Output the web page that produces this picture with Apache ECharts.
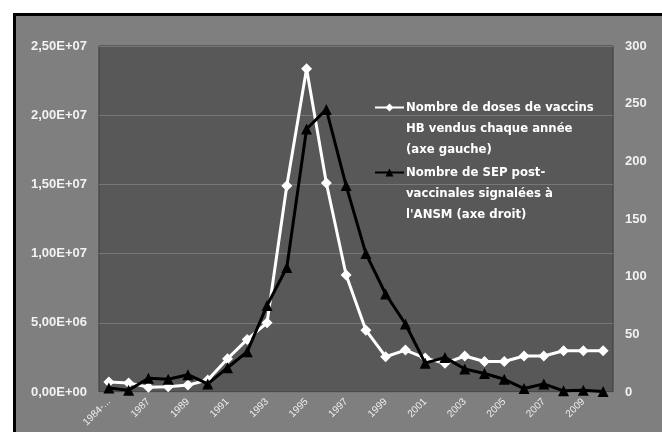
<!DOCTYPE html>
<html>
<head>
<meta charset="utf-8">
<script src="https://cdn.jsdelivr.net/npm/echarts@6/dist/echarts.min.js"></script>
<style>
html,body{margin:0;padding:0;background:#fff;}
#chart{width:662px;height:432px;}
</style>
</head>
<body>
<div id="chart"></div>
<script>
const categories = ["1984-...","1986","1987","1988","1989","1990","1991","1992","1993","1994","1995","1996","1997","1998","1999","2000","2001","2002","2003","2004","2005","2006","2007","2008","2009","2010"];
const dosesName = "Nombre de doses de vaccins\nHB vendus chaque année\n(axe gauche)";
const sepName = "Nombre de SEP post-\nvaccinales signalées à\nl'ANSM (axe droit)";
const doses = [720000, 650000, 350000, 380000, 500000, 870000, 2400000, 3800000, 5000000, 14900000, 23350000, 15100000, 8450000, 4470000, 2550000, 3030000, 2450000, 2070000, 2600000, 2200000, 2200000, 2600000, 2600000, 2980000, 2980000, 2980000];
const sep = [3.5, 1.5, 12, 11, 15, 7, 21, 35, 75, 108, 228, 245, 179, 120, 85, 59, 25, 30, 20, 16, 11, 3, 7, 1, 1.5, 0.5];

function sci(v) {
  if (v === 0) return '0,00E+00';
  const e = Math.floor(Math.log10(v) + 1e-9);
  const m = v / Math.pow(10, e);
  return m.toFixed(2).replace('.', ',') + 'E+' + String(e).padStart(2, '0');
}

const chart = echarts.init(document.getElementById('chart'));
const legendText = {
  color: '#ffffff',
  fontFamily: 'DejaVu Sans',
  fontWeight: 'bold',
  fontSize: 11.7,
  lineHeight: 21,
  padding: [0, 0, 0, -3]
};
chart.setOption({
  animation: false,
  backgroundColor: '#ffffff',
  graphic: [{
    type: 'rect',
    left: 13, top: 13, z: -100,
    shape: { x: 0, y: 0, width: 720, height: 500 },
    style: { fill: '#7f7f7f', stroke: '#000000', lineWidth: 3 }
  }],
  grid: {
    left: 99, right: 49, top: 46, bottom: 40,
    show: true, backgroundColor: '#585858', borderColor: '#3a3a3a', borderWidth: 1
  },
  legend: [{
    data: [dosesName], left: 374, top: 55, padding: 0,
    itemWidth: 29, itemHeight: 10, itemGap: 0,
    formatter: n => '\n\n' + n,
    textStyle: legendText
  }, {
    data: [sepName], left: 374, top: 120, padding: 0,
    itemWidth: 29, itemHeight: 10, itemGap: 0,
    formatter: n => '\n\n' + n,
    textStyle: legendText
  }],
  xAxis: {
    type: 'category',
    data: categories,
    boundaryGap: true,
    axisLine: { show: false },
    axisTick: { show: false },
    axisLabel: {
      interval: 1, rotate: 45, margin: 8,
      color: '#eeeeee', fontSize: 10, fontFamily: 'Liberation Sans'
    }
  },
  yAxis: [{
    type: 'value', min: 0, max: 25000000, interval: 5000000,
    axisLine: { show: false }, axisTick: { show: false },
    splitLine: { lineStyle: { color: '#777777', width: 1 } },
    axisLabel: {
      formatter: sci, margin: 12,
      color: '#f2f2f2', fontSize: 13, fontWeight: 'bold', fontFamily: 'Liberation Sans'
    }
  }, {
    type: 'value', min: 0, max: 300, interval: 50,
    axisLine: { show: false }, axisTick: { show: false },
    splitLine: { show: false },
    axisLabel: {
      margin: 12,
      color: '#f2f2f2', fontSize: 13, fontWeight: 'bold', fontFamily: 'Liberation Sans'
    }
  }],
  series: [{
    name: dosesName,
    type: 'line',
    yAxisIndex: 0,
    data: doses,
    symbol: 'diamond',
    symbolSize: 11,
    lineStyle: { color: '#ffffff', width: 3 },
    itemStyle: { color: '#ffffff' },
    z: 2
  }, {
    name: sepName,
    type: 'line',
    yAxisIndex: 1,
    data: sep,
    symbol: 'triangle',
    symbolSize: 11,
    lineStyle: { color: '#000000', width: 3 },
    itemStyle: { color: '#000000' },
    z: 3
  }]
});
</script>
</body>
</html>
